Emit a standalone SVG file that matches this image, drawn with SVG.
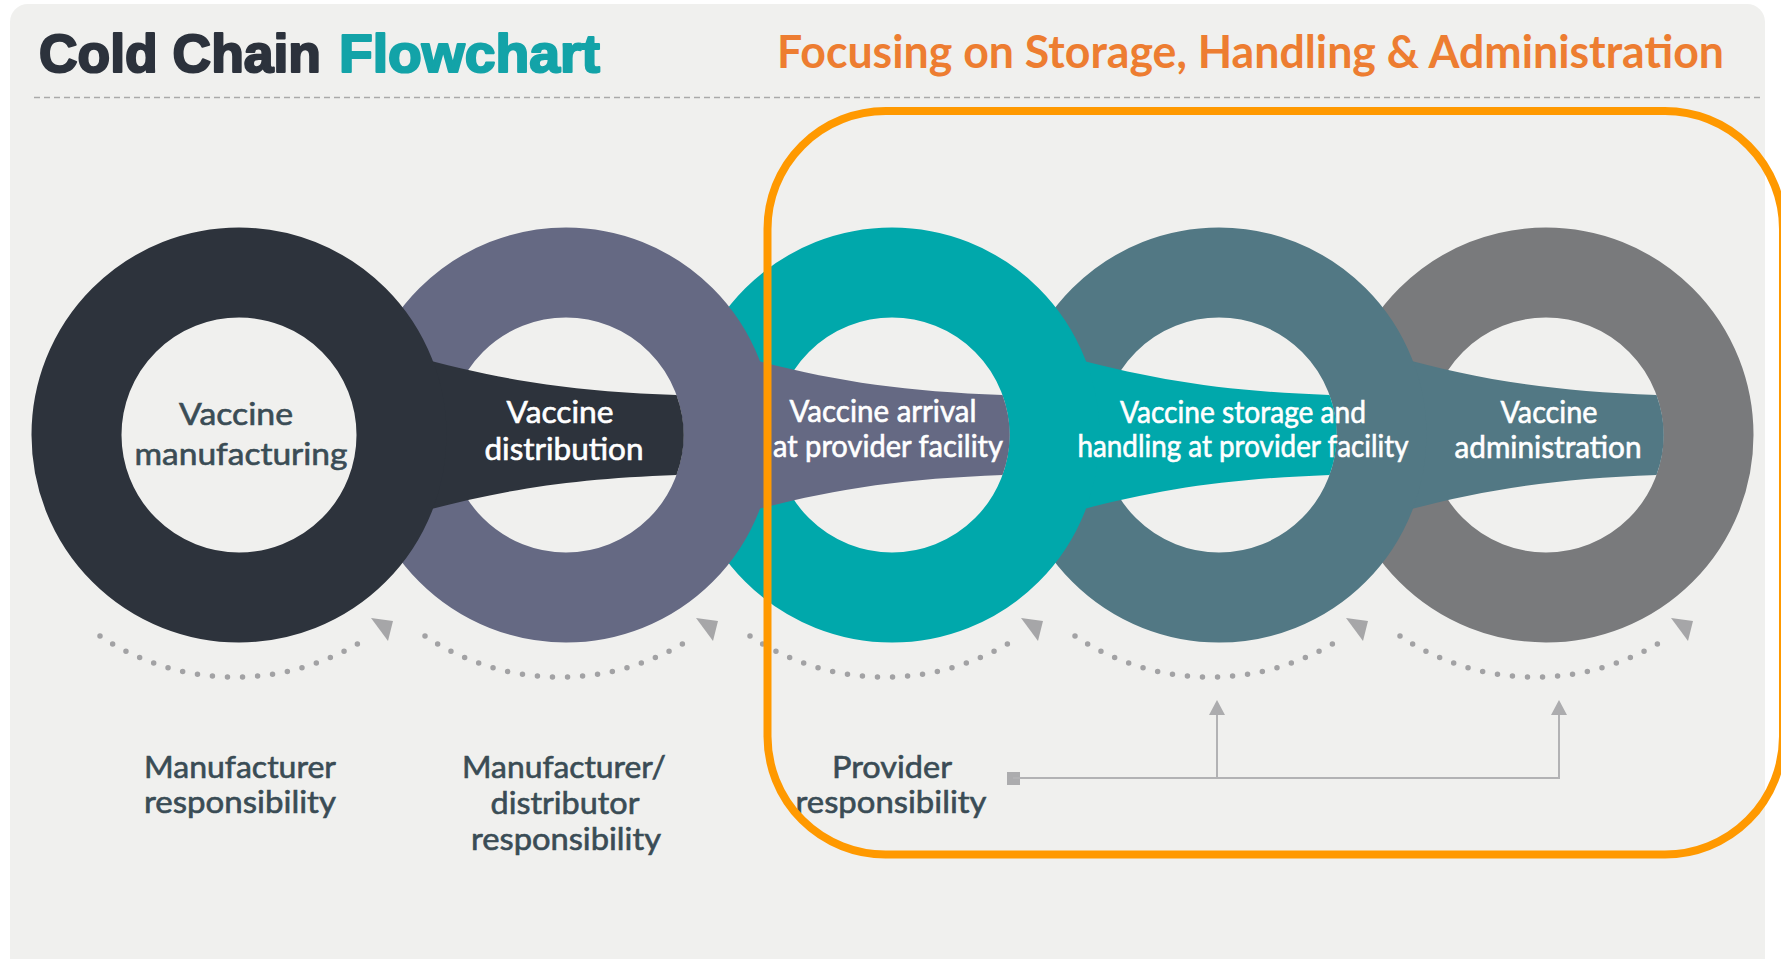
<svg xmlns="http://www.w3.org/2000/svg" width="1781" height="959" viewBox="0 0 1781 959">
<defs>
<style>
.ring{fill:none;stroke-width:90}
.lbl{font-family:Lato,"Liberation Sans",sans-serif;font-size:30px;text-anchor:middle;stroke-width:0.6px}
.w{fill:#ffffff;stroke:#ffffff}
.d{fill:#3a4c55;stroke:#3a4c55}
.dots{fill:none;stroke:#a2a2a4;stroke-width:5.5;stroke-linecap:round;stroke-dasharray:0 15.07}
.ah{fill:#a6a6a8}
.conn{fill:none;stroke:#b2b2b4;stroke-width:2}
</style>
<marker id="up" viewBox="0 0 15 16" refX="1" refY="8" markerWidth="15" markerHeight="16" markerUnits="userSpaceOnUse" orient="auto">
<path d="M0,0 L15,8 L0,16 Z" fill="#acacae"/>
</marker>
</defs>
<rect x="0" y="0" width="1781" height="959" fill="#ffffff"/>
<rect x="10" y="4" width="1755" height="990" rx="18" fill="#f0f0ee"/>
<g id="title">
<text x="39" y="72" font-family="'Liberation Sans',Arial,sans-serif" font-weight="bold" font-size="54" fill="#2c323c" stroke="#2c323c" stroke-width="2.2" stroke-linejoin="round" textLength="282" lengthAdjust="spacingAndGlyphs">Cold Chain</text>
<text x="339" y="72" font-family="'Liberation Sans',Arial,sans-serif" font-weight="bold" font-size="54" fill="#13a3a8" stroke="#13a3a8" stroke-width="2.2" stroke-linejoin="round" textLength="261" lengthAdjust="spacingAndGlyphs">Flowchart</text>
<text x="777" y="68" font-family="Lato,'Liberation Sans',sans-serif" font-weight="bold" font-size="46" fill="#ed7d31" textLength="947" lengthAdjust="spacingAndGlyphs">Focusing on Storage, Handling &amp; Administration</text>
<line x1="34" y1="97.5" x2="1762" y2="97.5" stroke="#aaaaaa" stroke-width="1.5" stroke-dasharray="6 4"/>
</g>
<g id="node5">
<circle class="ring" cx="1546" cy="435" r="162.5" stroke="#797a7c"/>
<path d="M1389,355 C1479,380 1549,391 1656.5,395 A117.5 117.5 0 0 1 1656.5,475 C1549,479 1479,490 1389,515 Z" fill="#527884"/>
</g>
<g id="node4">
<circle class="ring" cx="1219" cy="435" r="162.5" stroke="#527884"/>
<path d="M1062,355 C1152,380 1222,391 1329.5,395 A117.5 117.5 0 0 1 1329.5,475 C1222,479 1152,490 1062,515 Z" fill="#00a8ab"/>
</g>
<g id="node3">
<circle class="ring" cx="892" cy="435" r="162.5" stroke="#00a8ab"/>
<path d="M736,355 C826,380 896,391 1002.5,395 A117.5 117.5 0 0 1 1002.5,475 C896,479 826,490 736,515 Z" fill="#656983"/>
</g>
<g id="node2">
<circle class="ring" cx="566" cy="435" r="162.5" stroke="#656983"/>
<path d="M409,355 C499,380 569,391 676.5,395 A117.5 117.5 0 0 1 676.5,475 C569,479 499,490 409,515 Z" fill="#2d333c"/>
</g>
<g id="node1">
<circle class="ring" cx="239" cy="435" r="162.5" stroke="#2d333c"/>
</g>
<g id="node1-label">
<text class="lbl d" x="236" y="425" font-size="33" textLength="114" lengthAdjust="spacingAndGlyphs">Vaccine</text>
<text class="lbl d" x="241" y="465" font-size="33" textLength="213" lengthAdjust="spacingAndGlyphs">manufacturing</text>
</g>
<g id="node2-label">
<text class="lbl w" x="560" y="423" textLength="107" lengthAdjust="spacingAndGlyphs">Vaccine</text>
<text class="lbl w" x="564" y="460" textLength="159" lengthAdjust="spacingAndGlyphs">distribution</text>
</g>
<g id="node3-label">
<text class="lbl w" x="883" y="422" textLength="187" lengthAdjust="spacingAndGlyphs">Vaccine arrival</text>
<text class="lbl w" x="888" y="457" textLength="230" lengthAdjust="spacingAndGlyphs">at provider facility</text>
</g>
<g id="node4-label">
<text class="lbl w" x="1243" y="423" textLength="246" lengthAdjust="spacingAndGlyphs">Vaccine storage and</text>
<text class="lbl w" x="1243" y="457" textLength="331" lengthAdjust="spacingAndGlyphs">handling at provider facility</text>
</g>
<g id="node5-label">
<text class="lbl w" x="1549" y="423" textLength="97" lengthAdjust="spacingAndGlyphs">Vaccine</text>
<text class="lbl w" x="1548" y="458" textLength="187" lengthAdjust="spacingAndGlyphs">administration</text>
</g>
<g id="connectors">
<path class="dots" d="M100,636 A242 242 0 0 0 370,636"/>
<polygon class="ah" points="371,618 393,621 388,641"/>
<path class="dots" d="M425,636 A242 242 0 0 0 695,636"/>
<polygon class="ah" points="696,618 718,621 713,641"/>
<path class="dots" d="M750,636 A242 242 0 0 0 1020,636"/>
<polygon class="ah" points="1021,618 1043,621 1038,641"/>
<path class="dots" d="M1075,636 A242 242 0 0 0 1345,636"/>
<polygon class="ah" points="1346,618 1368,621 1363,641"/>
<path class="dots" d="M1400,636 A242 242 0 0 0 1670,636"/>
<polygon class="ah" points="1671,618 1693,621 1688,641"/>
<rect x="1007" y="772" width="13" height="13" fill="#acacae"/>
<path class="conn" d="M1013,778 H1560"/>
<path class="conn" d="M1217,779 V714" marker-end="url(#up)"/>
<path class="conn" d="M1559,779 V714" marker-end="url(#up)"/>
</g>
<g id="resp-manufacturer">
<text class="lbl d" x="240" y="778" textLength="192" lengthAdjust="spacingAndGlyphs">Manufacturer</text>
<text class="lbl d" x="240" y="813" textLength="192" lengthAdjust="spacingAndGlyphs">responsibility</text>
</g>
<g id="resp-distributor">
<text class="lbl d" x="564" y="778" textLength="204" lengthAdjust="spacingAndGlyphs">Manufacturer/</text>
<text class="lbl d" x="565" y="814" textLength="149" lengthAdjust="spacingAndGlyphs">distributor</text>
<text class="lbl d" x="566" y="850" textLength="190" lengthAdjust="spacingAndGlyphs">responsibility</text>
</g>
<g id="resp-provider">
<text class="lbl d" x="892" y="778" textLength="120" lengthAdjust="spacingAndGlyphs">Provider</text>
<text class="lbl d" x="891" y="813" textLength="191" lengthAdjust="spacingAndGlyphs">responsibility</text>
</g>
<g id="focus">
<rect x="767.5" y="111" width="1015.5" height="743.5" rx="118" fill="none" stroke="#ff9900" stroke-width="8"/>
</g>
</svg>
